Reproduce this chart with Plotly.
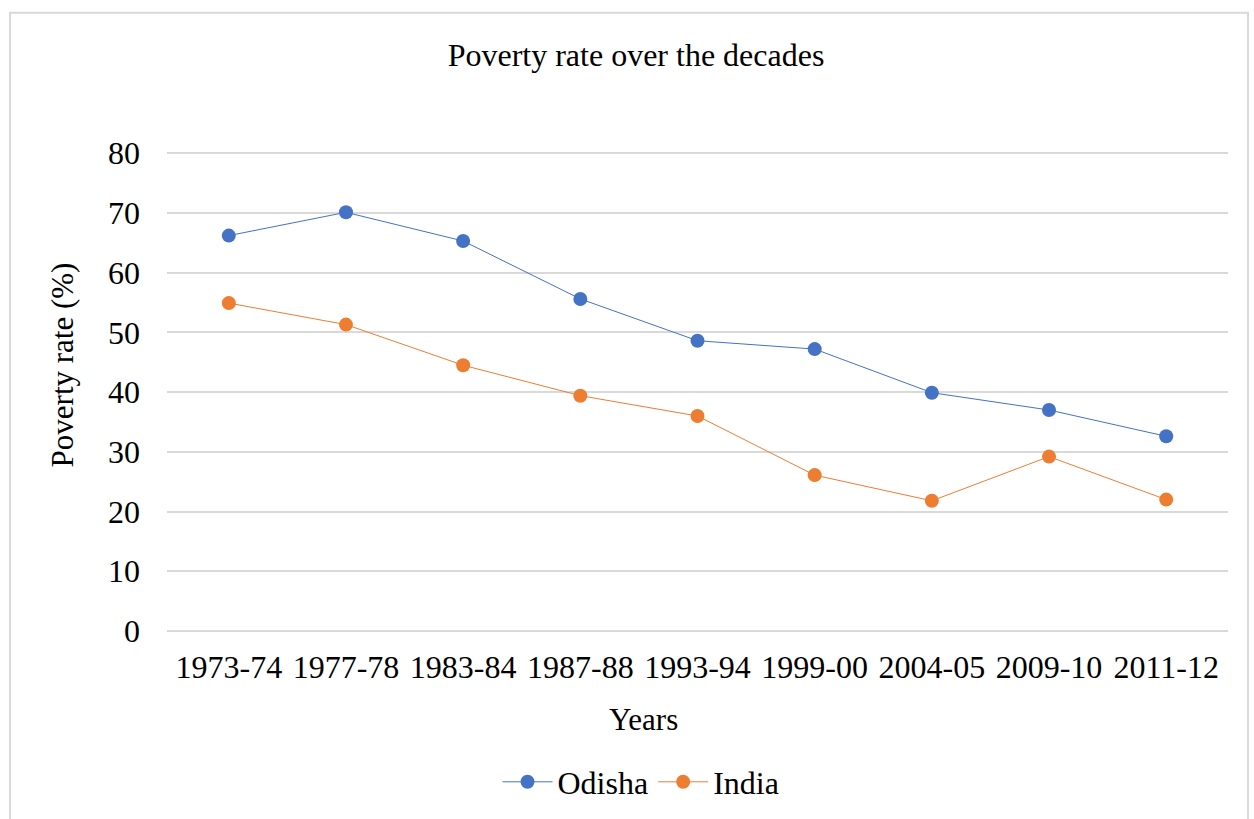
import plotly.graph_objects as go

years = ["1973-74", "1977-78", "1983-84", "1987-88", "1993-94", "1999-00", "2004-05", "2009-10", "2011-12"]
odisha = [66.2, 70.1, 65.3, 55.6, 48.6, 47.2, 39.9, 37.0, 32.6]
india = [54.9, 51.3, 44.5, 39.4, 36.0, 26.1, 21.8, 29.2, 22.0]

FONT = "Liberation Serif, Times New Roman, serif"

fig = go.Figure()
fig.add_trace(go.Scatter(x=years, y=odisha, name="Odisha", mode="lines+markers",
                         line=dict(color="#4472C4", width=1), marker=dict(size=14, color="#4472C4")))
fig.add_trace(go.Scatter(x=years, y=india, name="India", mode="lines+markers",
                         line=dict(color="#ED7D31", width=1), marker=dict(size=14, color="#ED7D31")))

PW, PH = 1061, 478
fig.update_layout(
    width=1254, height=819,
    margin=dict(l=167, r=26, t=152, b=188),
    paper_bgcolor="white", plot_bgcolor="white",
    font=dict(family=FONT, color="black", size=32),
    title=dict(text="Poverty rate over the decades", x=(448 + 824) / 2 / 1254, xanchor="center",
               y=1 - 55 / 819, yanchor="middle", font=dict(size=32, family=FONT)),
    xaxis=dict(type="category", showgrid=False, showline=False, ticks="",
               tickfont=dict(size=32), ticklabelstandoff=14),
    yaxis=dict(range=[0, 80.2], dtick=10, showgrid=True, gridcolor="#D9D9D9", gridwidth=1.5,
               zeroline=True, zerolinecolor="#D9D9D9", zerolinewidth=1.5, showline=False,
               ticks="", tickfont=dict(size=32), ticklabelstandoff=26),
    legend=dict(orientation="h", x=(641 - 167) / PW, xanchor="center", y=1 - 782 / 819,
                yanchor="middle", yref="container", font=dict(size=32), itemwidth=50),
    showlegend=True,
    annotations=[
        dict(text="Poverty rate (%)", xref="paper", yref="paper",
             x=(62 - 167) / PW, y=(631 - 366) / PH, textangle=-90,
             showarrow=False, font=dict(size=31, family=FONT),
             xanchor="center", yanchor="middle"),
        dict(text="Years", xref="paper", yref="paper",
             x=(643 - 167) / PW, y=(631 - 719) / PH,
             showarrow=False, font=dict(size=31, family=FONT),
             xanchor="center", yanchor="middle"),
    ],
)
fig.add_shape(type="rect", xref="paper", yref="paper",
              x0=-157 / PW, x1=1 + 20 / PW, y0=-190 / PH, y1=1 + 139 / PH,
              line=dict(color="#D9D9D9", width=2), layer="below")
fig.write_html("out.html")
